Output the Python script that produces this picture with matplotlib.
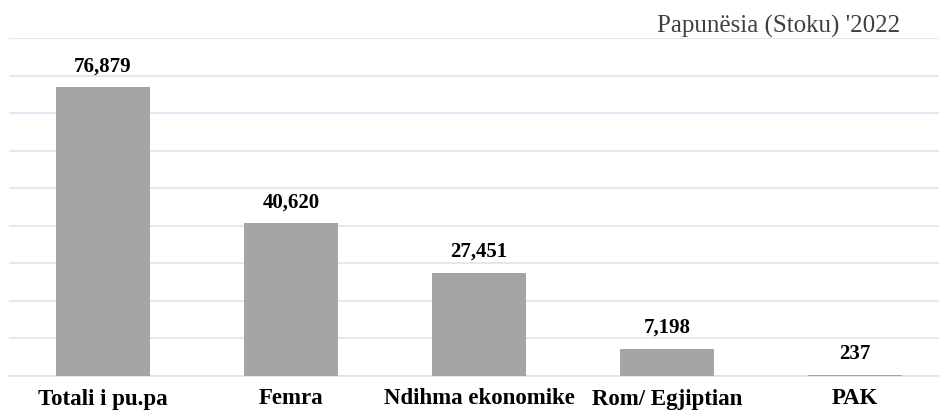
import matplotlib
matplotlib.use("Agg")
import matplotlib.pyplot as plt
from matplotlib.ticker import MultipleLocator

plt.rcParams["font.family"] = ["Liberation Serif", "DejaVu Serif"]

categories = ["Totali i pu.pa", "Femra", "Ndihma ekonomike", "Rom/ Egjiptian", "PAK"]
values = [76879, 40620, 27451, 7198, 237]
value_labels = ["76,879", "40,620", "27,451", "7,198", "237"]
title = "Papunësia (Stoku) '2022"

W, H = 939, 412
fig = plt.figure(figsize=(W / 100, H / 100), dpi=100)
left, right = 9 / W, 949 / W
bottom, top = (H - 376) / H, (H - 38) / H
ax = fig.add_axes([left, bottom, right - left, top - bottom])

x = list(range(len(categories)))
ax.bar(x, values, width=0.5, color="#a5a5a5", zorder=3)
ax.set_xlim(-0.5, len(categories) - 0.5)
ax.set_ylim(0, 90000)
ax.yaxis.set_major_locator(MultipleLocator(10000))
ax.grid(axis="y", color="#dae3f3", linewidth=1.2, zorder=0)
ax.set_axisbelow(True)
for s in ["top", "right", "left"]:
    ax.spines[s].set_visible(False)
ax.spines["bottom"].set_color("#dae3f3")
ax.spines["bottom"].set_linewidth(1.2)
ax.tick_params(axis="y", left=False, labelleft=False)
ax.tick_params(axis="x", length=0, pad=9)
ax.set_xticks(x)
ax.set_xticklabels(categories, fontweight="bold", fontsize=16.5, color="#000000")

for xi, v, lab in zip(x, values, value_labels):
    ax.annotate(lab, (xi, v), xytext=(0, 8), textcoords="offset points",
                ha="center", va="bottom", fontweight="bold", fontsize=15,
                color="#000000")

fig.text(900 / W, (H - 33) / H, title, ha="right", va="baseline",
         fontsize=18, color="#404040")

fig.savefig("out.png", dpi=100)
